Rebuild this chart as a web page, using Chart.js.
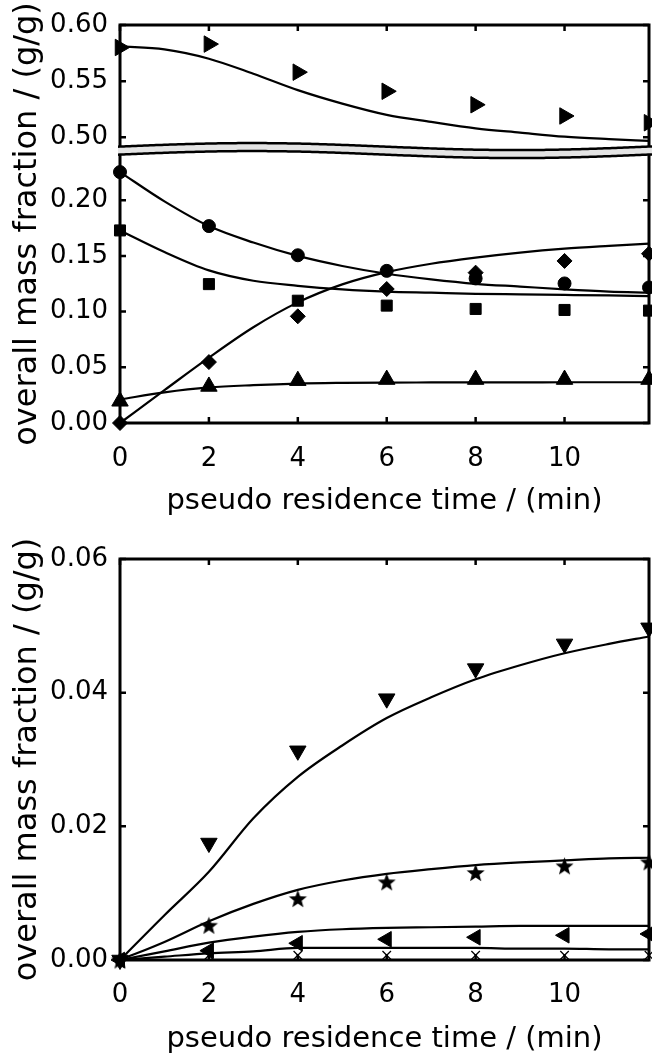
<!DOCTYPE html>
<html>
<head>
<meta charset="utf-8">
<script src="https://cdn.jsdelivr.net/npm/chart.js@4.4.1/dist/chart.umd.min.js"></script>
<style>
  html, body { margin: 0; padding: 0; background: #fff; }
  canvas { position: absolute; left: 0; }
  #topChart { top: 0; }
  #bottomChart { top: 520px; }
</style>
</head>
<body>
<canvas id="topChart" width="652" height="520"></canvas>
<canvas id="bottomChart" width="652" height="534"></canvas>
<script>
// --- Data ---
const sampleTimes = [0, 2, 4, 6, 8, 10, 11.9];
const fitTimes = [0, 1, 2, 3, 4, 5, 6, 7, 8, 9, 10, 11, 11.9];

// top panel, upper segment
const rightTriMeas = [0.580, 0.583, 0.558, 0.541, 0.529, 0.519, 0.513];
const rightTriFit = [0.581, 0.5783, 0.570, 0.5566, 0.542, 0.530, 0.520, 0.5137, 0.508, 0.5042, 0.5006, 0.4984, 0.4968];

// top panel, lower segment
const circleMeas = [0.2253, 0.1768, 0.1506, 0.1366, 0.1298, 0.1253, 0.1217];
const circleFit = [0.2253, 0.199, 0.1768, 0.162, 0.150, 0.141, 0.134, 0.129, 0.125, 0.1225, 0.120, 0.118, 0.117];
const squareMeas = [0.1729, 0.1247, 0.1098, 0.1054, 0.1024, 0.1015, 0.1009];
const squareFit = [0.1729, 0.1535, 0.137, 0.1277, 0.1232, 0.120, 0.118, 0.117, 0.116, 0.1155, 0.115, 0.1145, 0.114];
const diamondMeas = [0, 0.0547, 0.0958, 0.1203, 0.135, 0.1455, 0.152];
const diamondFit = [0, 0.0295, 0.0587, 0.086, 0.1083, 0.1245, 0.1355, 0.143, 0.1485, 0.153, 0.1565, 0.159, 0.161];
const upTriMeas = [0.0195, 0.0328, 0.038, 0.039, 0.039, 0.039, 0.039];
const upTriFit = [0.0212, 0.0275, 0.0319, 0.034, 0.0354, 0.036, 0.0363, 0.0364, 0.0365, 0.0365, 0.0366, 0.0366, 0.0366];

// bottom panel
const downTriMeas = [0, 0.0175, 0.0313, 0.0391, 0.0436, 0.0473, 0.0497];
const downTriFit = [0, 0.0067, 0.0132, 0.0212, 0.0274, 0.0321, 0.0362, 0.0393, 0.0420, 0.0441, 0.0459, 0.0473, 0.0484];
const starMeas = [0, 0.0052, 0.0092, 0.0117, 0.0131, 0.0141, 0.0147];
const starFit = [0, 0.0027, 0.0058, 0.0084, 0.0105, 0.0119, 0.0129, 0.0136, 0.0142, 0.0146, 0.0149, 0.0152, 0.0153];
const leftTriMeas = [0, 0.0014, 0.0025, 0.0031, 0.0034, 0.0037, 0.0039];
const leftTriFit = [0, 0.0013, 0.0026, 0.0035, 0.0042, 0.0046, 0.0048, 0.0049, 0.0050, 0.0051, 0.0051, 0.0051, 0.0051];
const crossMeas = [0, 0.0007, 0.0007, 0.0007, 0.0007, 0.0007, 0.0007];
const crossFit = [0, 0.0005, 0.0010, 0.0013, 0.0018, 0.0018, 0.0018, 0.0018, 0.0018, 0.0017, 0.0017, 0.0016, 0.0016];

const xTitle = 'pseudo residence time / (min)';
const yTitle = 'overall mass fraction / (g/g)';

// --- Helpers ---
const FONT = 'DejaVu Sans';
const pts = (xs, ys) => xs.map((x, i) => ({ x: x, y: ys[i] }));

function makeStar(outer, inner) {
    const size = Math.ceil(outer * 2 + 2);
    const c = document.createElement('canvas');
    c.width = size;
    c.height = size;
    const g = c.getContext('2d');
    g.fillStyle = '#000';
    g.beginPath();
    for (let i = 0; i < 10; i++) {
        const r = i % 2 ? inner : outer;
        const a = -Math.PI / 2 + i * Math.PI / 5;
        g.lineTo(size / 2 + r * Math.cos(a), size / 2 + r * Math.sin(a) + 1);
    }
    g.closePath();
    g.fill();
    return c;
}

function markers(ys, style, radius, extra, axis) {
    return Object.assign({
        data: pts(sampleTimes, ys),
        yAxisID: axis || 'y',
        showLine: false,
        pointStyle: style,
        pointRadius: radius,
        pointBackgroundColor: '#000',
        pointBorderColor: '#000',
        pointBorderWidth: 1,
        clip: false
    }, extra || {});
}

function fitLine(ys, axis) {
    return {
        data: pts(fitTimes, ys),
        yAxisID: axis || 'y',
        borderColor: '#000',
        borderWidth: 2.2,
        pointRadius: 0,
        cubicInterpolationMode: 'monotone',
        clip: false
    };
}

// frame with inward ticks, y title and the axis break band
const framePlugin = {
    id: 'frame',
    beforeDatasetsDraw(chart, args, opts) {
        const { ctx, chartArea: a, scales } = chart;
        ctx.save();
        ctx.strokeStyle = '#000';
        ctx.lineWidth = 3;
        ctx.strokeRect(a.left, a.top, a.right - a.left, a.bottom - a.top);
        ctx.lineWidth = 2.5;
        ctx.beginPath();
        Object.values(scales).forEach(s => {
            s.ticks.forEach(t => {
                const p = s.getPixelForValue(t.value);
                if (s.isHorizontal()) {
                    ctx.moveTo(p, a.bottom); ctx.lineTo(p, a.bottom - 6);
                    ctx.moveTo(p, a.top); ctx.lineTo(p, a.top + 6);
                } else {
                    ctx.moveTo(a.left, p); ctx.lineTo(a.left + 6, p);
                    ctx.moveTo(a.right, p); ctx.lineTo(a.right - 6, p);
                }
            });
        });
        ctx.stroke();

        ctx.translate(opts.titleX, (a.top + a.bottom) / 2);
        ctx.rotate(-Math.PI / 2);
        ctx.fillStyle = '#000';
        ctx.font = '32px "' + FONT + '"';
        ctx.textAlign = 'center';
        ctx.textBaseline = 'middle';
        ctx.fillText(opts.title, 0, 0);
        ctx.restore();
    },
    afterDatasetsDraw(chart, args, opts) {
        if (!opts.breakAxis) return;
        const { ctx, chartArea: a } = chart;
        const yMid = chart.scales[opts.breakAxis].bottom;
        const w = a.right - a.left;
        const wave = x => yMid - 3.5 * Math.sin(2 * Math.PI * (x - a.left) / w);
        const x0 = a.left - 2, x1 = a.right + 3;
        ctx.save();
        ctx.beginPath();
        for (let x = x0; x <= x1; x += 2) ctx.lineTo(x, wave(x) - 4);
        for (let x = x1; x >= x0; x -= 2) ctx.lineTo(x, wave(x) + 4);
        ctx.closePath();
        ctx.fillStyle = '#e4e4e4';
        ctx.fill();
        ctx.strokeStyle = '#000';
        ctx.lineWidth = 2.5;
        [-4, 4].forEach(off => {
            ctx.beginPath();
            for (let x = x0; x <= x1; x += 2) ctx.lineTo(x, wave(x) + off);
            ctx.stroke();
        });
        ctx.restore();
    }
};

const tickFont = { family: FONT, size: 26, lineHeight: 1 };

function xScale(height, labelPad, titlePad) {
    return {
        type: 'linear',
        min: 0,
        max: 11.9,
        afterFit: s => {
            s.height = height;
            s.paddingLeft = 0;
            s.paddingRight = 0;
        },
        grid: { display: false, drawTicks: false },
        border: { display: false },
        ticks: { stepSize: 2, includeBounds: false, padding: labelPad, color: '#000', font: tickFont },
        title: {
            display: true, text: xTitle, color: '#000',
            font: { family: FONT, size: 29, lineHeight: 1 },
            padding: { top: 0, bottom: titlePad }
        }
    };
}

function yScale(min, max, step, extra) {
    return Object.assign({
        type: 'linear',
        position: 'left',
        min: min,
        max: max,
        afterFit: s => { s.width = 120; },
        grid: { display: false, drawTicks: false },
        border: { display: false },
        ticks: {
            stepSize: step, includeBounds: false, padding: 12, color: '#000', font: tickFont,
            callback: v => v.toFixed(2)
        }
    }, extra || {});
}

const baseOptions = {
    responsive: false,
    animation: false,
    devicePixelRatio: 1,
    plugins: { legend: { display: false }, tooltip: { enabled: false } }
};

// --- Top panel (broken y axis via stacked scales) ---
new Chart(document.getElementById('topChart'), {
    type: 'line',
    data: {
        datasets: [
            markers(rightTriMeas, 'triangle', 9.5, { pointRotation: 90 }, 'yHigh'),
            markers(circleMeas, 'circle', 6.5, null, 'yLow'),
            markers(squareMeas, 'rect', 7.8, null, 'yLow'),
            markers(diamondMeas, 'rectRot', 7.5, null, 'yLow'),
            markers(upTriMeas, 'triangle', 9.5, null, 'yLow'),
            fitLine(rightTriFit, 'yHigh'),
            fitLine(circleFit, 'yLow'),
            fitLine(squareFit, 'yLow'),
            fitLine(diamondFit, 'yLow'),
            fitLine(upTriFit, 'yLow')
        ]
    },
    options: Object.assign({}, baseOptions, {
        layout: { autoPadding: false, padding: { top: 22.7, right: 3, left: 0, bottom: 0 } },
        scales: {
            x: xScale(97, 23, 4),
            yLow: yScale(0, 0.2446, 0.05, { stack: 'frac', stackWeight: 274 }),
            yHigh: yScale(0.4882, 0.60, 0.05, { stack: 'frac', stackWeight: 126.3 })
        },
        plugins: Object.assign({}, baseOptions.plugins, {
            frame: { title: yTitle, titleX: 28, breakAxis: 'yHigh' }
        })
    }),
    plugins: [framePlugin]
});

// --- Bottom panel ---
const starImg = makeStar(9.5, 4);

new Chart(document.getElementById('bottomChart'), {
    type: 'line',
    data: {
        datasets: [
            markers(downTriMeas, 'triangle', 9.5, { pointRotation: 180 }),
            markers(starMeas, starImg, 9),
            markers(leftTriMeas, 'triangle', 9, { pointRotation: 270 }),
            markers(crossMeas, 'crossRot', 6, { pointBorderWidth: 1.3 }),
            fitLine(downTriFit),
            fitLine(starFit),
            fitLine(leftTriFit),
            fitLine(crossFit)
        ]
    },
    options: Object.assign({}, baseOptions, {
        layout: { autoPadding: false, padding: { top: 39, right: 3, left: 0, bottom: 0 } },
        scales: {
            x: xScale(94, 22, 0.5),
            y: yScale(0, 0.06, 0.02)
        },
        plugins: Object.assign({}, baseOptions.plugins, {
            frame: { title: yTitle, titleX: 28 }
        })
    }),
    plugins: [framePlugin]
});
</script>
</body>
</html>
